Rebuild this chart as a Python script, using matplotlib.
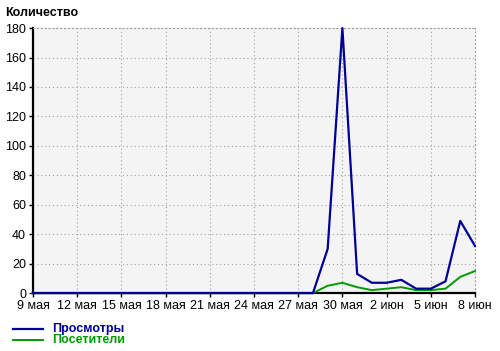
import matplotlib
matplotlib.use("Agg")
import matplotlib.pyplot as plt
import numpy as np

plt.rcParams['font.family'] = ['Liberation Sans', 'DejaVu Sans']

days = list(range(31))
views = [0]*19 + [0, 30, 180, 13, 7, 7, 9, 3, 3, 8, 49, 32]
visitors = [0]*19 + [0, 5, 7, 4, 2, 3, 4, 2, 2, 3, 11, 15]
tick_days = [0, 3, 6, 9, 12, 15, 18, 21, 24, 27, 30]
tick_labels = ["9 мая", "12 мая", "15 мая", "18 мая", "21 мая", "24 мая",
               "27 мая", "30 мая", "2 июн", "5 июн", "8 июн"]
y_ticks = list(range(0, 181, 20))

blue = "#000099"
green = "#009900"

fig = plt.figure(figsize=(5.0, 3.51), dpi=100)
ax = fig.add_axes([0.066, 0.165, 0.884, 0.755])
ax.set_facecolor("#f4f4f4")

ax.plot(days, visitors, color=green, lw=1.4, zorder=3, clip_on=False)
ax.plot(days, views, color=blue, lw=1.6, zorder=4, clip_on=False)

ax.set_xlim(0, 30)
ax.set_ylim(0, 180)
ax.set_xticks(tick_days)
ax.set_xticklabels(tick_labels)
ax.set_yticks(y_ticks)
ax.grid(True, color="#a0a0a0", linestyle=(0, (1, 2.5)), linewidth=0.8)
ax.set_axisbelow(True)

for s in ["top", "right"]:
    ax.spines[s].set_color("#a0a0a0")
    ax.spines[s].set_linestyle((0, (1, 2.5)))
    ax.spines[s].set_linewidth(0.8)
for s in ["left", "bottom"]:
    ax.spines[s].set_color("black")
    ax.spines[s].set_linewidth(1.6)

ax.tick_params(axis="both", labelsize=9, length=3, width=1, color="black", pad=2)

fig.text(0.01, 0.962, "Количество", fontsize=9, fontweight="bold", va="center", ha="left")

# legend
fig.add_artist(plt.Line2D([0.026, 0.086], [0.064, 0.064], color=blue, lw=1.6, transform=fig.transFigure))
fig.add_artist(plt.Line2D([0.026, 0.086], [0.030, 0.030], color=green, lw=1.4, transform=fig.transFigure))
fig.text(0.105, 0.064, "Просмотры", color=blue, fontsize=9, fontweight="bold", va="center", ha="left")
fig.text(0.105, 0.030, "Посетители", color=green, fontsize=9, fontweight="bold", va="center", ha="left")

fig.savefig("out.png", dpi=100)
